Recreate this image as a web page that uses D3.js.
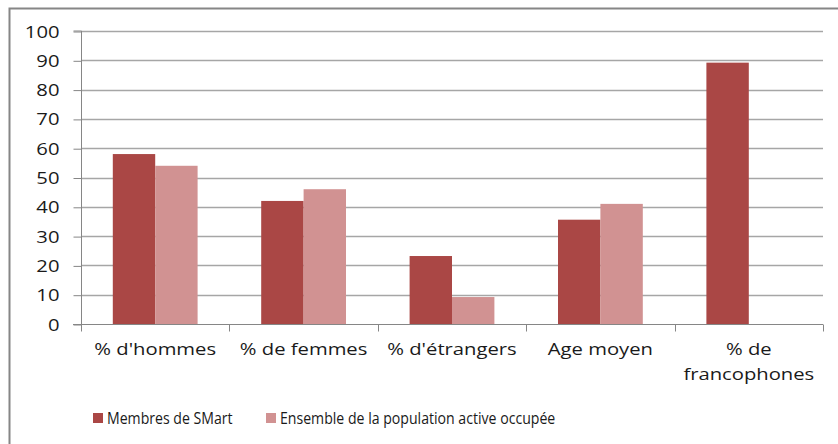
<!DOCTYPE html>
<html><head><meta charset="utf-8">
<script src="https://cdn.jsdelivr.net/npm/d3@7"></script>
<style>body{margin:0;background:#fff}svg{display:block}text{font-family:"Open Sans",Lato,sans-serif;fill:#1a1a1a}</style>
</head><body>
<svg id="c" width="838" height="444"></svg>
<script>
const categories = ["% d'hommes", "% de femmes", "% d'étrangers", "Age moyen", "% de\nfrancophones"];
const seriesNames = ["Membres de SMart", "Ensemble de la population active occupée"];
const smart = [58, 42, 23.2, 35.6, 89.2];
const population = [54, 46, 9.2, 41, null];
const yTicks = [0, 10, 20, 30, 40, 50, 60, 70, 80, 90, 100];
const colors = ["#aa4745", "#d19292"];

const svg = d3.select("#c");
const L = 81, R = 823, T = 31, B = 324;
const x = d3.scaleBand().domain(categories).range([L, R]).paddingInner(0).paddingOuter(0);
const bw = x.bandwidth() / 3.5;
const y = d3.scaleLinear().domain([0, 100]).range([B, T]);
const SX = 1.19;

// frame (cropped)
svg.append("path").attr("d", `M9.5,444V8.5H838`).attr("fill", "none").attr("stroke", "#868686").attr("stroke-width", 2);

// gridlines
svg.append("g").selectAll("line").data(yTicks.filter(d => d > 0)).join("line")
  .attr("x1", L).attr("x2", R).attr("y1", d => Math.round(y(d)) + 0.5).attr("y2", d => Math.round(y(d)) + 0.5)
  .attr("stroke", "#a6a6a6").attr("stroke-width", 1.3);

// y axis
const ya = svg.append("g").attr("transform", `translate(${L + 0.5},0)`)
  .call(d3.axisLeft(y).tickValues(yTicks).tickSize(8).tickFormat(""));
ya.select(".domain").attr("stroke", "#868686").attr("d", `M-8,${y(100)}H0V${B + 0.5}`);
ya.selectAll(".tick line").attr("stroke", "#868686").attr("transform", "translate(0,0.5)");
ya.selectAll(".tick").append("text")
  .attr("transform", `translate(-22,6) scale(${SX},1)`)
  .attr("text-anchor", "end").attr("font-size", 17).attr("fill", "#1a1a1a")
  .text(d => d3.format("d")(d));

// bars
const data = categories.map((c, i) => ({ c, v: [smart[i], population[i]] }));
const g = svg.append("g");
data.forEach(d => {
  d.v.forEach((v, j) => {
    if (v == null) return;
    g.append("rect")
      .attr("x", x(d.c) + bw * 0.75 + j * bw)
      .attr("y", y(v)).attr("width", bw).attr("height", B - y(v))
      .attr("fill", colors[j]);
  });
});

// x axis
const xa = svg.append("g").attr("transform", `translate(0,${B + 0.5})`);
xa.append("line").attr("x1", L - 8).attr("x2", R).attr("stroke", "#868686");
xa.selectAll(".tk").data(d3.range(categories.length + 1)).join("line")
  .attr("x1", i => Math.round(L + i * x.bandwidth()) + 0.5).attr("x2", i => Math.round(L + i * x.bandwidth()) + 0.5)
  .attr("y1", 0).attr("y2", 7).attr("stroke", "#868686");
xa.selectAll(".lbl").data(categories).join("g")
  .attr("transform", d => `translate(${x(d) + x.bandwidth() / 2},0) scale(${SX},1)`)
  .each(function (d) {
    const lines = d.split("\n");
    d3.select(this).selectAll("text").data(lines).join("text")
      .attr("text-anchor", "middle").attr("font-size", 17)
      .attr("x", 0).attr("y", (l, i) => 31 + i * 25).text(l => l);
  });

// legend
const leg = svg.append("g");
const legX = [93, 266];
seriesNames.forEach((n, i) => {
  leg.append("rect").attr("x", legX[i]).attr("y", 413).attr("width", 10).attr("height", 10).attr("fill", colors[i]);
  leg.append("text").attr("transform", `translate(${legX[i] + 14},424) scale(0.855,1)`).attr("font-size", 16.5).text(n);
});
</script>
</body></html>
